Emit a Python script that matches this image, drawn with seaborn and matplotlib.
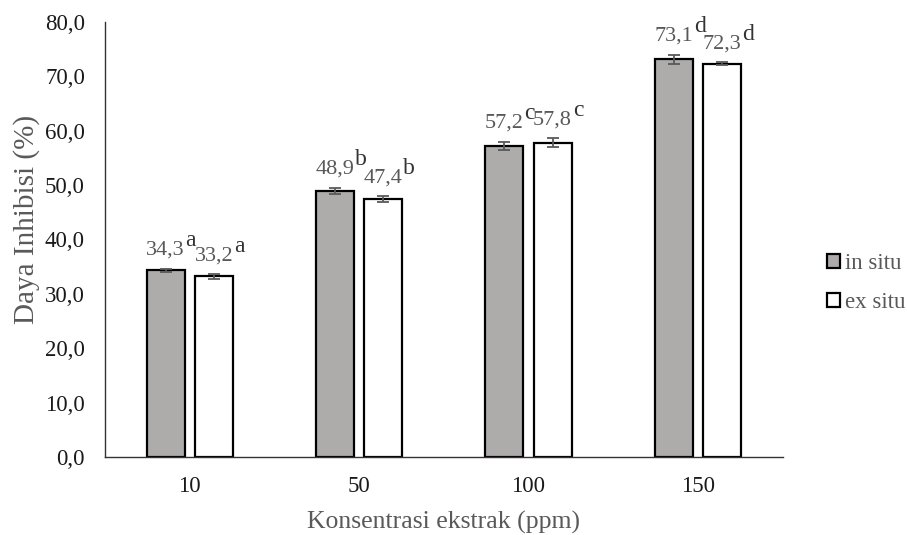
import pandas as pd
import seaborn as sns
import matplotlib.pyplot as plt
from matplotlib.patches import Patch

konsentrasi = ["10", "50", "100", "150"]
in_situ = [34.3, 48.9, 57.2, 73.1]
ex_situ = [33.2, 47.4, 57.8, 72.3]
err_in = [0.3, 0.6, 0.8, 0.9]
err_ex = [0.4, 0.5, 0.8, 0.3]
huruf_in = ["a", "b", "c", "d"]
huruf_ex = ["a", "b", "c", "d"]
yticks = [0, 10, 20, 30, 40, 50, 60, 70, 80]

df = pd.DataFrame({
    "konsentrasi": konsentrasi * 2,
    "daya": in_situ + ex_situ,
    "sampel": ["in situ"] * 4 + ["ex situ"] * 4,
})

sns.set_style("white")
plt.rcParams["font.family"] = ["Liberation Serif", "DejaVu Serif"]

fig = plt.figure(figsize=(9.07, 5.35), dpi=100)
ax = fig.add_axes([0.1158, 0.146, 0.747, 0.813])

warna = {"in situ": "#AEAAAA", "ex situ": "#FFFFFF"}
sns.barplot(data=df, x="konsentrasi", y="daya", hue="sampel", order=konsentrasi,
            hue_order=["in situ", "ex situ"], palette=warna, width=0.57, gap=0.21,
            edgecolor="black", linewidth=1.6, errorbar=None, legend=False, ax=ax)

teks_abu = "#595959"
for cont, vals, errs, huruf in zip(ax.containers, [in_situ, ex_situ], [err_in, err_ex], [huruf_in, huruf_ex]):
    for bar, v, e, h in zip(cont, vals, errs, huruf):
        cx = bar.get_x() + bar.get_width() / 2
        ax.errorbar(cx, v, yerr=e, fmt="none", ecolor="#595959", elinewidth=1.3,
                    capsize=4.5, capthick=1.3)
        label = f"{v:.1f}".replace(".", ",")
        angka = ax.annotate(label, (cx, v + e), xytext=(0, 6.5), textcoords="offset points",
                            ha="center", va="bottom", fontsize=16, color=teks_abu)
        # huruf notasi sebagai superscript
        ax.annotate(h, xy=(1, 1), xycoords=angka, xytext=(0.5, 0), textcoords="offset points",
                    ha="left", va="center", fontsize=17, color="#333333")

ax.set_ylim(0, 80)
ax.set_xlim(-0.5, 3.5)
ax.set_yticks(yticks)
ax.set_yticklabels([f"{t:.1f}".replace(".", ",") for t in yticks], fontsize=16.5, color="#1a1a1a")
ax.tick_params(axis="x", labelsize=16.5, labelcolor="#1a1a1a", pad=10)
ax.tick_params(axis="y", pad=11)
ax.set_xlabel("Konsentrasi ekstrak (ppm)", fontsize=18.5, color=teks_abu, labelpad=10)
ax.set_ylabel("Daya Inhibisi (%)", fontsize=21, color=teks_abu)
ax.yaxis.set_label_coords(-0.096, 0.547)

sns.despine(ax=ax)
for s in ["left", "bottom"]:
    ax.spines[s].set_color("#333333")
    ax.spines[s].set_linewidth(1.0)

handles = [Patch(facecolor=warna[k], edgecolor="black", linewidth=1.6, label=k)
           for k in ["in situ", "ex situ"]]
leg = ax.legend(handles=handles, loc="center left", bbox_to_anchor=(1.052, 0.40),
                borderaxespad=0, frameon=False, fontsize=16.5, handlelength=0.55,
                handleheight=0.55, handletextpad=0.25, labelspacing=0.8)
for t in leg.get_texts():
    t.set_color(teks_abu)

fig.savefig("out.png", dpi=100)
